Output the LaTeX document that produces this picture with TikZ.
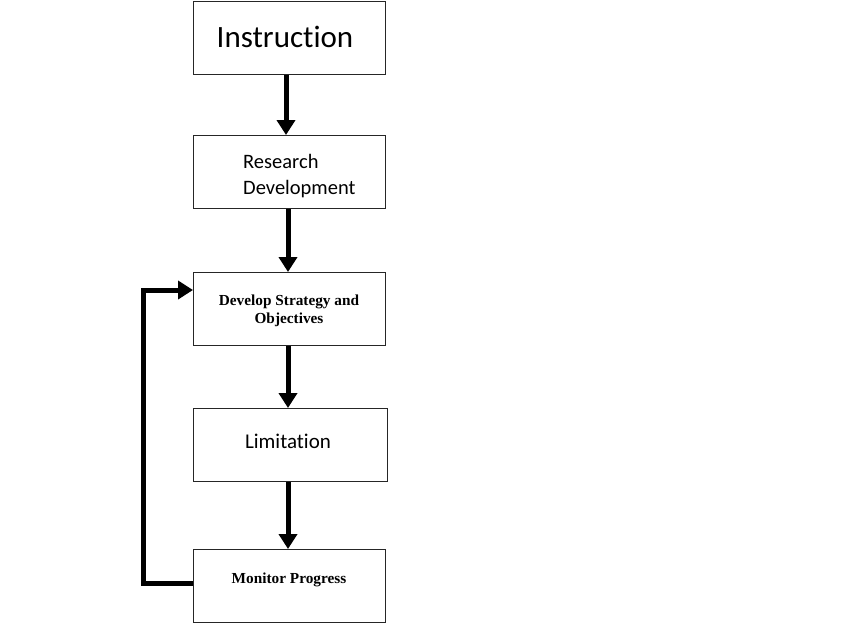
\documentclass[tikz,border=0pt]{standalone}
\usepackage{fontspec}
\setmainfont[Ligatures={NoCommon}]{Carlito}
\newfontfamily\tnr{Liberation Serif}
\usetikzlibrary{arrows.meta}
\begin{document}
\begin{tikzpicture}[x=1pt,y=-1pt,
  boxst/.style={draw=black!85,line width=1.2pt,minimum width=192pt,minimum height=73pt,anchor=north west,inner sep=0pt},
  flow/.style={line width=5pt,-{Triangle[width=18pt,length=15pt]}},
  lbl/.style={inner sep=0pt,align=center}]
\useasboundingbox (0,0) rectangle (850,625);
\node[boxst] (ins) at (193,0.6) {};
\node[lbl,font=\fontsize{31}{36}\selectfont] at (285,37) {Instruction};
\node[boxst] (res) at (193,135) {};
\node[lbl,align=left,anchor=west,font=\fontsize{20.5}{26}\selectfont] at (243,176) {Research\\Development};
\node[boxst] (dev) at (193,272) {};
\node[lbl,font=\tnr\bfseries\fontsize{15.3}{18}\selectfont] at (289,311) {Develop Strategy and\\Objectives};
\node[boxst,minimum width=194pt] (lim) at (193,408) {};
\node[lbl,font=\fontsize{21}{25}\selectfont] at (288,441) {Limitation};
\node[boxst] (mon) at (193,549) {};
\node[lbl,font=\tnr\bfseries\fontsize{15.3}{18}\selectfont] at (289,580) {Monitor Progress};
\draw[flow] (ins.south -| 286,0) -- (res.north -| 286,0);
\draw[flow] (res.south -| 288,0) -- (dev.north -| 288,0);
\draw[flow] (dev.south -| 288,0) -- (lim.north -| 288,0);
\draw[flow] (lim.south -| 288,0) -- (mon.north -| 288,0);
\coordinate (fb) at (143,0);
\draw[flow,line join=miter] (mon.west |- 0,583) -- (fb |- 0,583) -- (fb |- 0,290) -- (dev.west |- 0,290);
\end{tikzpicture}
\end{document}
